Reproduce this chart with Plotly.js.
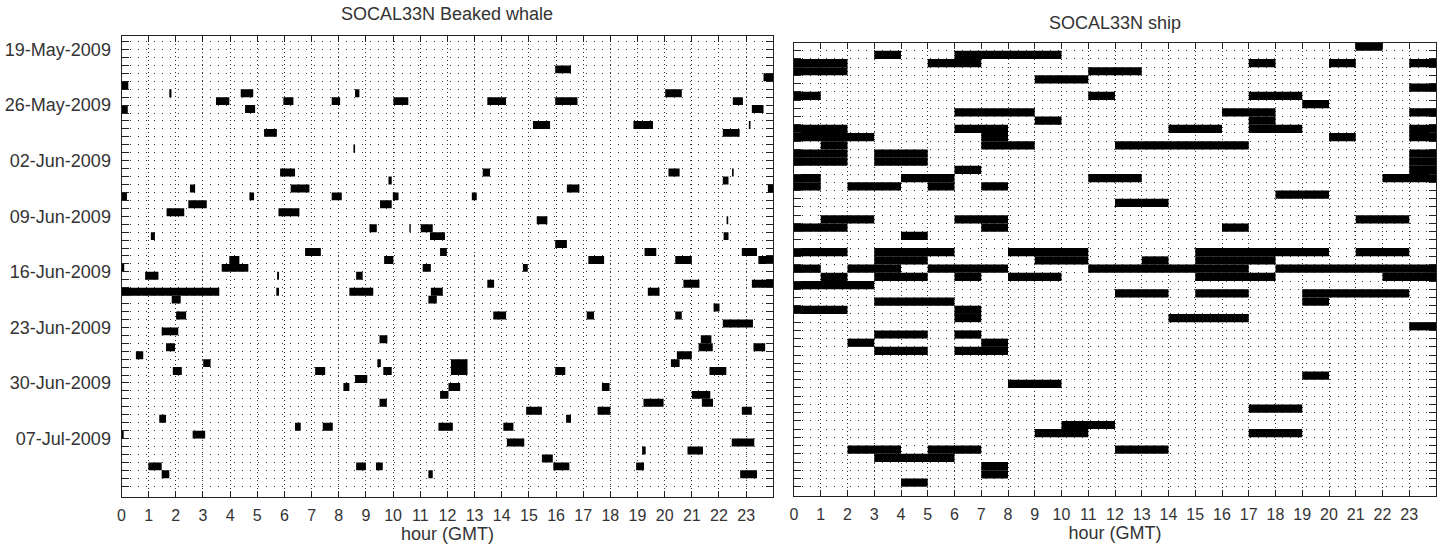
<!DOCTYPE html>
<html>
<head>
<meta charset="utf-8">
<script src="https://cdn.plot.ly/plotly-3.0.1.min.js"></script>
<style>
html,body{margin:0;padding:0;background:#fff;}
#chart{width:1444px;height:550px;}
</style>
</head>
<body>
<div id="chart"></div>
<script>
// ---------------- DATA ----------------
const hourLabels = ['0','1','2','3','4','5','6','7','8','9','10','11','12','13','14','15','16','17','18','19','20','21','22','23'];
const whaleDateLabels = ['19-May-2009','26-May-2009','02-Jun-2009','09-Jun-2009','16-Jun-2009','23-Jun-2009','30-Jun-2009','07-Jul-2009'];

// Beaked whale presence: day index (0 = 19-May-2009), start hour, end hour (GMT)
const whaleDay = [
  2, 3, 4, 5,5,5,5, 6,6,6,6,6,6,6, 7,7,7, 9,9,9, 10,10, 12, 15,15,15,15, 16,16,
  17,17,17,17, 18,18,18,18,18, 19,19, 20,20, 21,21, 22,22,22, 23,23,23, 24,
  25,25,25,25, 26,26,26,26,26, 27,27,27,27, 28,28,28, 29,29,29, 30,30,30,30,30,
  31,31, 32, 33,33,33,33, 34, 35, 36,36, 37,37,37, 38,38, 39,39,39,39,
  40,40,40,40,40,40, 41, 42,42,42, 43,43, 44,44,44, 45,45,45, 46,46,
  47,47,47,47, 48,48, 49,49, 50,50, 51, 52,52,52,52,52, 53,53,53
];
const whaleStartHour = [
  15.97, 23.64, 0, 1.76,4.39,8.6,20.02, 3.48,5.96,7.74,10.01,13.47,15.97,22.51, 0,4.55,23.21, 15.15,18.85,23.1, 5.25,22.14, 8.54, 5.84,13.3,20.14,22.48, 9.83,22.14,
  2.52,6.23,16.4,23.8, 0,4.71,7.74,9.99,12.9, 2.46,9.52, 1.66,5.78, 15.29,22.28, 9.13,10.6,11.02, 1.08,11.36,22.17, 15.97,
  6.76,11.73,19.26,22.84, 3.97,9.67,17.19,20.39,23.45, 0,3.69,11.09,14.78, 0.87,5.73,8.64, 13.47,20.69,23.21, 0,5.7,8.39,11.39,19.38,
  1.85,11.3, 21.8, 2.01,13.69,17.13,20.39, 22.14, 1.48, 9.5,21.33, 1.64,21.25,23.27, 0.53,20.45, 3.01,9.42,12.13,20.23,
  1.89,7.13,9.64,12.13,15.97,21.65, 8.6, 8.17,12.04,17.69, 11.73,21.0, 9.5,19.22,21.37, 14.9,17.53,22.84, 1.39,16.37,
  6.39,7.41,11.67,14.06, 0,2.62, 14.19,22.47, 19.17,20.84, 15.48, 0.99,8.64,9.37,15.9,18.95, 1.48,11.3,22.78
];
const whaleEndHour = [
  16.55, 24, 0.25, 1.84,4.85,8.76,20.63, 3.97,6.33,8.05,10.56,14.16,16.79,22.88, 0.23,4.92,23.64, 15.78,19.57,23.16, 5.72,22.76, 8.6, 6.39,13.57,20.55,22.54, 9.95,22.35,
  2.71,6.92,16.86,24, 0.2,4.88,8.11,10.2,13.08, 3.14,9.95, 2.31,6.55, 15.68,22.34, 9.4,10.65,11.46, 1.23,11.91,22.35, 16.4,
  7.34,11.98,19.69,23.4, 4.34,10.01,17.77,21.0,24, 0.1,4.67,11.39,14.96, 1.36,5.8,8.88, 13.72,21.28,24, 3.6,5.8,9.27,11.83,19.81,
  2.18,11.61, 22.02, 2.38,14.16,17.4,20.63, 23.25, 2.09, 9.79,21.72, 1.97,21.77,23.7, 0.8,21.0, 3.28,9.55,12.74,20.55,
  2.22,7.5,9.95,12.74,16.34,22.27, 9.05, 8.39,12.47,17.97, 12.04,21.68, 9.77,19.96,21.78, 15.48,18.0,23.21, 1.64,16.55,
  6.6,7.78,12.2,14.43, 0.08,3.08, 14.83,23.3, 19.3,21.41, 15.88, 1.48,9.0,9.62,16.49,19.24, 1.76,11.46,23.4
];

// Ship presence: day index, start hour, end hour (GMT)
const shipDay = [
  -1, 0,0, 1,1,1,1,1, 2,2, 3, 4, 5,5,5, 6, 7,7,7, 8,8, 9,9,9,9,9, 10,10,10,10,
  11,11,11, 12,12,12, 13,13,13, 14,14, 15,15,15,15, 16,16,16,16, 17, 18,
  20,20,20, 21,21,21, 22, 24,24,24,24,24, 25,25,25,25, 26,26,26,26,26,
  27,27,27,27,27,27, 28, 29,29,29, 30,30, 31,31, 32,32, 33, 34,34, 35,35, 36,36,
  39, 40, 43, 45, 46,46, 48,48,48, 49, 50, 51, 52
];
const shipStartHour = [
  21, 3,6, 0,5,17,20,23, 0,11, 9, 23, 0,11,17, 19, 6,16,23, 9,17, 0,6,14,17,23, 0,7,20,23,
  1,7,12, 0,3,23, 0,3,23, 6,23, 0,4,11,22, 0,2,5,7, 18, 12,
  1,6,21, 0,7,16, 4, 0,3,8,15,21, 3,9,13,15, 0,2,5,11,18,
  1,3,6,8,15,22, 0, 12,15,19, 3,19, 0,6, 6,14, 23, 3,6, 2,7, 3,6,
  19, 8, 17, 10, 9,17, 2,5,12, 3, 7, 7, 4
];
const shipEndHour = [
  22, 4,10, 2,7,18,21,24, 2,13, 11, 24, 1,12,19, 20, 9,18,24, 10,18, 2,8,16,19,24, 3,8,21,24,
  2,9,17, 2,5,24, 2,5,24, 7,24, 1,6,13,24, 1,4,6,8, 20, 14,
  3,8,23, 2,8,17, 5, 2,6,11,20,23, 5,11,14,18, 1,4,8,17,24,
  2,5,7,10,18,24, 3, 14,17,23, 6,20, 2,7, 7,17, 24, 5,7, 3,8, 5,8,
  20, 10, 19, 12, 11,19, 4,7,14, 6, 8, 8, 5
];

// ---------------- BUILD ----------------
const MS_DAY = 86400000;
const MONTHS = {Jan:0,Feb:1,Mar:2,Apr:3,May:4,Jun:5,Jul:6,Aug:7,Sep:8,Oct:9,Nov:10,Dec:11};
function parseLabel(s){ const p = s.split('-'); return Date.UTC(+p[2], MONTHS[p[1]], +p[0]); }
const day0 = parseLabel(whaleDateLabels[0]);
const labelByDay = {};
whaleDateLabels.forEach(l => { labelByDay[Math.round((parseLabel(l) - day0) / MS_DAY)] = l; });

const whaleRange = [56.32, -1.70];
const shipRange = [54.13, -0.97];
const whaleTickDays = []; for (let d = -1; d <= 55; d++) whaleTickDays.push(d);
const shipTickDays = []; for (let d = 0; d <= 53; d++) shipTickDays.push(d);

const FONT = 'Liberation Sans, Arial, Helvetica, sans-serif';
const TXT = '#333333';
const LINE = '#222222';

const whaleTrace = {
  type:'bar', orientation:'h', xaxis:'x', yaxis:'y',
  y: whaleDay, base: whaleStartHour,
  x: whaleEndHour.map((e,i) => e - whaleStartHour[i]),
  width: 1, offset: 0,
  marker:{color:'#000', line:{width:0}}, hoverinfo:'skip', showlegend:false
};
const shipTrace = {
  type:'bar', orientation:'h', xaxis:'x2', yaxis:'y2',
  y: shipDay, base: shipStartHour,
  x: shipEndHour.map((e,i) => e - shipStartHour[i]),
  width: 1, offset: 0,
  marker:{color:'#000', line:{width:0}}, hoverinfo:'skip', showlegend:false
};

function xAxis(domain, anchor){
  return {
    domain: domain, anchor: anchor, range:[0,24],
    tickmode:'array', tickvals: hourLabels.map(Number), ticktext: hourLabels,
    ticks:'inside', ticklen:6, tickwidth:1, tickcolor:LINE,
    showline:true, linecolor:LINE, linewidth:1, mirror:'allticks',
    showgrid:true, gridcolor:'#333', gridwidth:1, griddash:'1px,3px',
    zeroline:false, ticklabelstandoff:4,
    tickfont:{family:FONT, size:16, color:TXT},
    title:{text:'hour (GMT)', font:{family:FONT, size:18, color:TXT}, standoff:4},
    fixedrange:true
  };
}
function yAxis(domain, anchor, range, tickDays, showLabels){
  return {
    domain: domain, anchor: anchor, range: range,
    tickmode:'array', tickvals: tickDays,
    ticktext: tickDays.map(d => labelByDay[d] || ''),
    showticklabels: showLabels,
    ticks:'inside', ticklen:7, tickwidth:1, tickcolor:LINE,
    showline:true, linecolor:LINE, linewidth:1, mirror:'allticks',
    showgrid:true, gridcolor:'#333', gridwidth:1, griddash:'1px,7px',
    zeroline:false, ticklabelstandoff:6,
    tickfont:{family:FONT, size:18, color:TXT},
    fixedrange:true
  };
}

const W = 1444, H = 550;
const layout = {
  width: W, height: H,
  margin:{l:0, r:0, t:0, b:0},
  paper_bgcolor:'#fff', plot_bgcolor:'#fff',
  barmode:'overlay', showlegend:false,
  xaxis: xAxis([121.5/W, 773.3/W], 'y'),
  yaxis: yAxis([1-496.7/H, 1-36/H], 'x', whaleRange, whaleTickDays, true),
  xaxis2: xAxis([794/W, 1436/W], 'y2'),
  yaxis2: yAxis([1-496/H, 1-42.7/H], 'x2', shipRange, shipTickDays, false),
  annotations:[
    {text:'SOCAL33N Beaked whale', xref:'x domain', yref:'paper', x:0.5, y:1-14/H,
     xanchor:'center', yanchor:'middle', showarrow:false, font:{family:FONT, size:18, color:TXT}},
    {text:'SOCAL33N ship', xref:'x2 domain', yref:'paper', x:0.5, y:1-23/H,
     xanchor:'center', yanchor:'middle', showarrow:false, font:{family:FONT, size:18, color:TXT}}
  ]
};

Plotly.newPlot('chart', [whaleTrace, shipTrace], layout, {staticPlot:true, displayModeBar:false});
</script>
</body>
</html>
